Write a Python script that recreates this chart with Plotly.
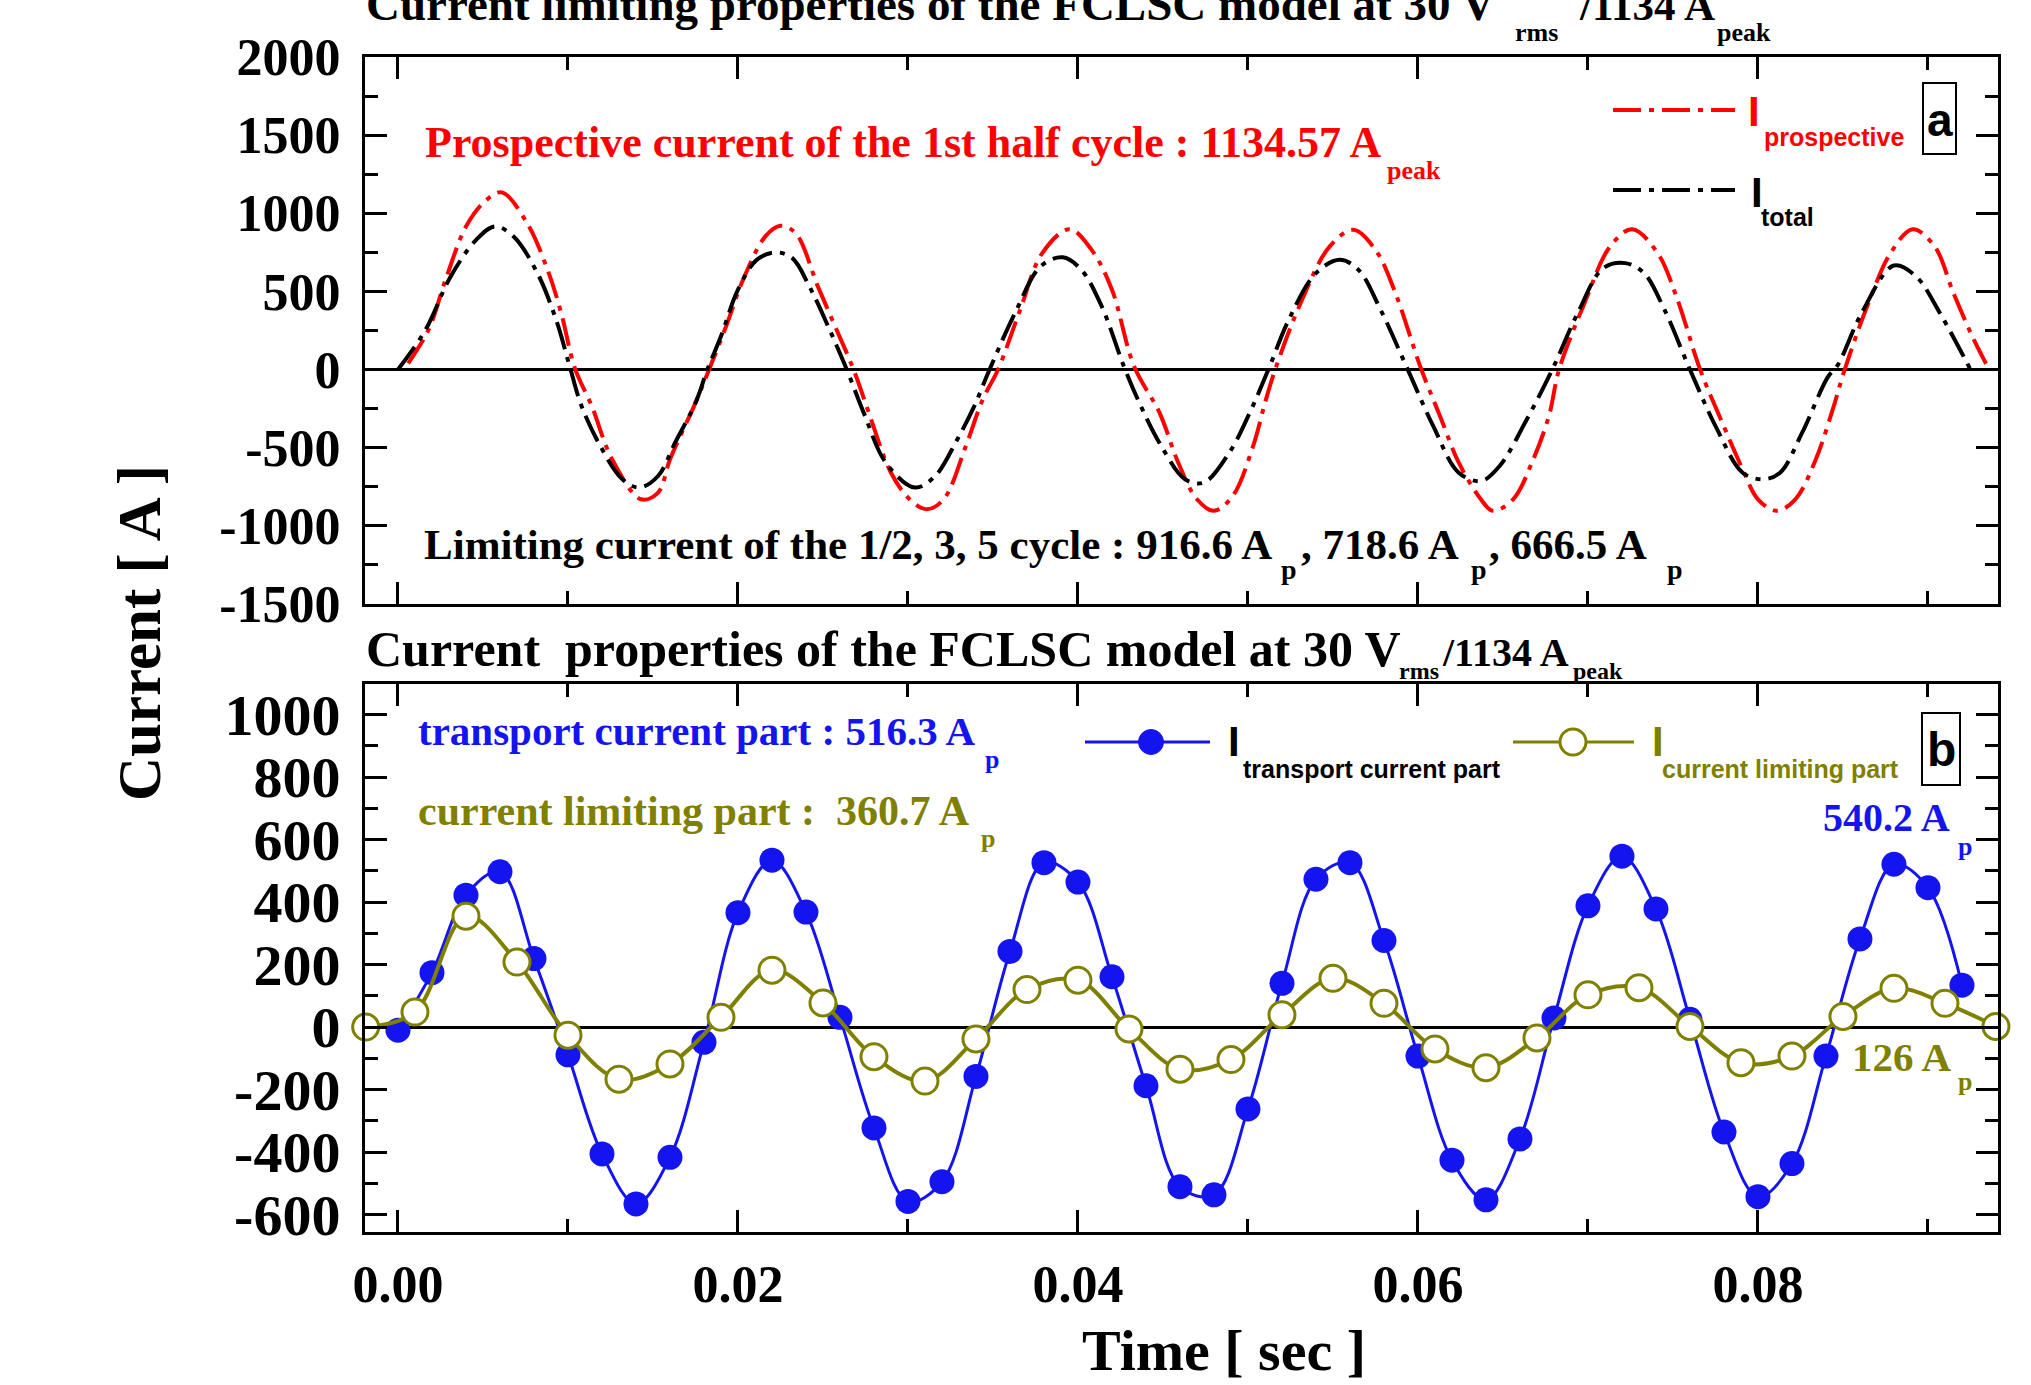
import plotly.graph_objects as go

W, H = 2031, 1385

# ---------------- data ----------------
t_prospective = [0.0006, 0.0018, 0.0028, 0.0040, 0.0051, 0.0061, 0.0076, 0.0088, 0.0096, 0.0104,
                 0.0114, 0.0126, 0.0143, 0.0153, 0.0160, 0.0175, 0.0183, 0.0193, 0.0203, 0.0216,
                 0.0225, 0.0234, 0.0247, 0.0258, 0.0268, 0.0277, 0.0290, 0.0301, 0.0311, 0.0321,
                 0.0334, 0.0344, 0.0353, 0.0366, 0.0379, 0.0395, 0.0408, 0.0420, 0.0433, 0.0448,
                 0.0459, 0.0470, 0.0480, 0.0491, 0.0503, 0.0510, 0.0516, 0.0531, 0.0548, 0.0562,
                 0.0575, 0.0586, 0.0602, 0.0613, 0.0624, 0.0637, 0.0644, 0.0656, 0.0667, 0.0677,
                 0.0683, 0.0698, 0.0713, 0.0726, 0.0741, 0.0752, 0.0766, 0.0779, 0.0791, 0.0800,
                 0.0811, 0.0822, 0.0834, 0.0844, 0.0851, 0.0865, 0.0878, 0.0891, 0.0904, 0.0915,
                 0.0927, 0.0936]
i_prospective = [40, 255, 575, 915, 1075, 1134, 936, 638, 362, 11,
                 -234, -575, -830, -787, -575, -213, 0, 277, 575, 851,
                 920, 872, 532, 255, 0, -277, -660, -830, -894, -830,
                 -490, -191, 0, 383, 745, 898, 766, 511, 21, -277,
                 -596, -830, -904, -809, -490, -213, 0, 426, 787, 894,
                 766, 511, 0, -298, -596, -830, -904, -830, -596, -298,
                 0, 426, 787, 898, 745, 468, 0, -340, -638, -830,
                 -904, -830, -575, -255, 0, 426, 745, 898, 787, 489,
                 191, 0]

t_total = [0.0000, 0.0016, 0.0031, 0.0046, 0.0057, 0.0068, 0.0082, 0.0093, 0.0101, 0.0108,
           0.0119, 0.0132, 0.0142, 0.0153, 0.0163, 0.0175, 0.0182, 0.0190, 0.0200, 0.0211,
           0.0222, 0.0232, 0.0242, 0.0253, 0.0264, 0.0274, 0.0287, 0.0304, 0.0316, 0.0329,
           0.0339, 0.0348, 0.0363, 0.0378, 0.0391, 0.0402, 0.0414, 0.0427, 0.0437, 0.0449,
           0.0463, 0.0474, 0.0489, 0.0501, 0.0512, 0.0524, 0.0540, 0.0554, 0.0565, 0.0578,
           0.0594, 0.0609, 0.0624, 0.0637, 0.0648, 0.0664, 0.0679, 0.0694, 0.0709, 0.0722,
           0.0733, 0.0745, 0.0760, 0.0776, 0.0791, 0.0803, 0.0813, 0.0826, 0.0841, 0.0847,
           0.0861, 0.0880, 0.0893, 0.0907, 0.0925]
i_total = [0, 250, 596, 830, 916, 851, 617, 319, 21, -234,
           -489, -702, -755, -681, -468, -213, 0, 213, 511, 702,
           750, 713, 532, 277, 0, -277, -596, -755, -681, -447,
           -234, 0, 362, 660, 718, 638, 404, 21, -234, -489,
           -702, -723, -532, -277, 0, 319, 617, 702, 638, 383,
           0, -362, -660, -713, -617, -319, 0, 362, 649, 681,
           617, 383, 0, -383, -660, -702, -660, -404, -50, 30,
           362, 666, 596, 362, 0]

t_transport = [0.000, 0.002, 0.004, 0.006, 0.008, 0.010, 0.012, 0.014, 0.016, 0.018,
               0.020, 0.022, 0.024, 0.026, 0.028, 0.030, 0.032, 0.034, 0.036, 0.038,
               0.040, 0.042, 0.044, 0.046, 0.048, 0.050, 0.052, 0.054, 0.056, 0.058,
               0.060, 0.062, 0.064, 0.066, 0.068, 0.070, 0.072, 0.074, 0.076, 0.078,
               0.080, 0.082, 0.084, 0.086, 0.088, 0.090, 0.092]
i_transport = [-10, 174, 422, 497, 219, -89, -406, -566, -417, -49,
               366, 534, 368, 31, -323, -558, -495, -158, 242, 526,
               464, 161, -188, -511, -537, -262, 140, 473, 526, 277,
               -93, -426, -553, -358, 29, 388, 547, 378, 25, -336,
               -543, -437, -93, 282, 521, 446, 134]

t_limiting = [-0.0019, 0.001, 0.004, 0.007, 0.010, 0.013, 0.016, 0.019, 0.022, 0.025,
              0.028, 0.031, 0.034, 0.037, 0.040, 0.043, 0.046, 0.049, 0.052, 0.055,
              0.058, 0.061, 0.064, 0.067, 0.070, 0.073, 0.076, 0.079, 0.082, 0.085,
              0.088, 0.091, 0.094]
i_limiting = [0, 48, 355, 208, -26, -167, -118, 31, 182, 77,
              -95, -173, -38, 120, 150, -6, -135, -104, 39, 156,
              76, -70, -130, -35, 103, 126, 2, -114, -93, 34,
              124, 76, 2]

x_tick_vals = [0.00, 0.02, 0.04, 0.06, 0.08]
x_tick_text = ["0.00", "0.02", "0.04", "0.06", "0.08"]
y_top_vals = [-1500, -1000, -500, 0, 500, 1000, 1500, 2000]
y_top_text = ["-1500", "-1000", "-500", "0", "500", "1000", "1500", "2000"]
y_bot_vals = [-600, -400, -200, 0, 200, 400, 600, 800, 1000]
y_bot_text = ["-600", "-400", "-200", "0", "200", "400", "600", "800", "1000"]

assert len(t_prospective) == len(i_prospective)
assert len(t_total) == len(i_total)
assert len(t_transport) == len(i_transport)
assert len(t_limiting) == len(i_limiting)

# ---------------- styling ----------------
SERIF = "Liberation Serif"
SANS = "Liberation Sans"
RED = "#ff0000"
BLUE = "#1414f0"
OLIVE = "#808000"
DASHDOT = "28px,8px,5px,8px"

fig = go.Figure()
fig.add_trace(go.Scatter(x=t_prospective, y=i_prospective, mode="lines", xaxis="x", yaxis="y",
                         line=dict(color=RED, width=4, dash=DASHDOT, shape="spline")))
fig.add_trace(go.Scatter(x=t_total, y=i_total, mode="lines", xaxis="x", yaxis="y",
                         line=dict(color="black", width=4, dash=DASHDOT, shape="spline")))
fig.add_trace(go.Scatter(x=t_transport, y=i_transport, mode="lines+markers", xaxis="x2", yaxis="y2",
                         line=dict(color=BLUE, width=3, shape="spline"),
                         marker=dict(symbol="circle", size=25, color=BLUE, line=dict(width=0)),
                         cliponaxis=False))
fig.add_trace(go.Scatter(x=t_limiting, y=i_limiting, mode="lines+markers", xaxis="x2", yaxis="y2",
                         line=dict(color=OLIVE, width=4, shape="spline"),
                         marker=dict(symbol="circle", size=26, color="white", line=dict(width=3, color=OLIVE)),
                         cliponaxis=False))

XR = [-0.00194, 0.09412]
XD = [365 / W, 1998 / W]


def xax(show_labels):
    return dict(range=XR, domain=XD, showline=True, linewidth=3, linecolor="black", mirror="ticks",
                ticks="inside", ticklen=22, tickwidth=3, tickcolor="black",
                tickmode="array", tickvals=x_tick_vals, ticktext=x_tick_text,
                showgrid=False, zeroline=False, showticklabels=show_labels, automargin=False,
                tickfont=dict(family=SERIF, size=52, color="black", weight="bold"),
                ticklabelstandoff=5,
                minor=dict(ticks="inside", ticklen=13, tickwidth=3, tickcolor="black",
                           tickmode="linear", tick0=0, dtick=0.01, showgrid=False))


def yax(rng, dom, vals, text, minor_dt, fsize, standoff):
    return dict(range=rng, domain=dom, showline=True, linewidth=3, linecolor="black", mirror="ticks",
                ticks="inside", ticklen=22, tickwidth=3, tickcolor="black",
                tickmode="array", tickvals=vals, ticktext=text, automargin=False,
                showgrid=False, zeroline=True, zerolinewidth=3, zerolinecolor="black",
                tickfont=dict(family=SERIF, size=fsize, color="black", weight="bold"),
                ticklabelstandoff=standoff,
                minor=dict(ticks="inside", ticklen=13, tickwidth=3, tickcolor="black",
                           tickmode="linear", tick0=0, dtick=minor_dt, showgrid=False))


fig.update_layout(
    width=W, height=H, margin=dict(l=0, r=0, t=0, b=0, pad=0, autoexpand=False),
    paper_bgcolor="white", plot_bgcolor="white", showlegend=False,
    xaxis=xax(False),
    yaxis=yax([-1500, 2000], [1 - 604 / H, 1 - 57 / H], y_top_vals, y_top_text, 250, 52, 11),
    xaxis2=xax(True),
    yaxis2=yax([-656, 1098], [1 - 1232 / H, 1 - 684 / H], y_bot_vals, y_bot_text, 100, 58, 10),
)
fig.layout.xaxis2.anchor = "y2"
fig.layout.yaxis2.anchor = "x2"
fig.layout.xaxis.anchor = "y"
fig.layout.yaxis.anchor = "x"

DESC = {SERIF: 0.216, SANS: 0.212}


def txt(x, base, s, size, color, fam=SERIF, anchor="left"):
    return dict(xref="paper", yref="paper", x=x / W, y=1 - (base + DESC[fam] * size) / H,
                xanchor=anchor, yanchor="bottom", text=s, showarrow=False, borderpad=0,
                font=dict(family=fam, size=size, color=color, weight="bold"))


ann = []
# titles
ann += [txt(365, 21, "Current limiting properties of the FCLSC model at 30 V", 47, "black"),
        txt(1514, 42, "rms", 26, "black"),
        txt(1578, 21, "/1134 A", 43, "black"),
        txt(1716, 42, "peak", 26, "black")]
ann += [txt(365, 667, "Current&nbsp; properties of the FCLSC model at 30 V", 50, "black"),
        txt(1398, 680, "rms", 24, "black"),
        txt(1441, 667, "/1134 A", 40, "black"),
        txt(1572, 680, "peak", 24, "black")]
# panel a texts
ann += [txt(424, 158, "Prospective current of the 1st half cycle : 1134.57 A", 44, RED),
        txt(1386, 180, "peak", 26, RED)]
ann += [txt(423, 560, "Limiting current of the 1/2, 3, 5 cycle : 916.6 A", 43, "black"),
        txt(1280, 580, "p", 28, "black"),
        txt(1300, 560, ", 718.6 A", 43, "black"),
        txt(1470, 580, "p", 28, "black"),
        txt(1488, 560, ", 666.5 A", 43, "black"),
        txt(1666, 580, "p", 28, "black")]
# panel b texts
ann += [txt(417, 746, "transport current part : 516.3 A", 41, BLUE),
        txt(984, 769, "p", 26, BLUE),
        txt(417, 826, "current limiting part :&nbsp; 360.7 A", 42, OLIVE),
        txt(980, 848, "p", 26, OLIVE),
        txt(1822, 832, "540.2 A", 40, BLUE),
        txt(1957, 856, "p", 26, BLUE),
        txt(1851, 1072, "126 A", 41, OLIVE),
        txt(1957, 1091, "p", 26, OLIVE)]
# legends
ann += [txt(1747, 127, "I", 42, RED, SANS), txt(1763, 147, "prospective", 25, RED, SANS),
        txt(1750, 208, "I", 42, "black", SANS), txt(1760, 227, "total", 25, "black", SANS),
        txt(1227, 757, "I", 42, "black", SANS), txt(1242, 779, "transport current part", 25, "black", SANS),
        txt(1651, 757, "I", 42, OLIVE, SANS), txt(1661, 779, "current limiting part", 25, OLIVE, SANS),
        txt(1939.5, 137, "a", 46, "black", SANS, "center"),
        txt(1941, 767, "b", 48, "black", SANS, "center")]
# axis titles
ann += [dict(xref="paper", yref="paper", x=139 / W, y=1 - 633 / H, xanchor="center", yanchor="middle",
             text="Current [ A ]", textangle=-90, showarrow=False,
             font=dict(family=SERIF, size=61, color="black", weight="bold")),
        txt(1224, 1371, "Time [ sec ]", 58, "black", SERIF, "center")]
fig.update_layout(annotations=ann)


def px(x, y):
    return x / W, 1 - y / H


shapes = []
for (y, col) in [(110, RED), (190, "black")]:
    x0, y0 = px(1613, y)
    x1, _ = px(1735, y)
    shapes.append(dict(type="line", xref="paper", yref="paper", x0=x0, x1=x1, y0=y0, y1=y0,
                       line=dict(color=col, width=4, dash=DASHDOT)))
for (xa, xb, col) in [(1085, 1210, BLUE), (1513, 1634, OLIVE)]:
    x0, y0 = px(xa, 742)
    x1, _ = px(xb, 742)
    shapes.append(dict(type="line", xref="paper", yref="paper", x0=x0, x1=x1, y0=y0, y1=y0,
                       line=dict(color=col, width=3)))
cx0, cy0 = px(1151 - 12.5, 742 - 12.5)
cx1, cy1 = px(1151 + 12.5, 742 + 12.5)
shapes.append(dict(type="circle", xref="paper", yref="paper", x0=cx0, x1=cx1, y0=cy0, y1=cy1,
                   fillcolor=BLUE, line=dict(color=BLUE, width=1)))
cx0, cy0 = px(1573 - 13, 742 - 13)
cx1, cy1 = px(1573 + 13, 742 + 13)
shapes.append(dict(type="circle", xref="paper", yref="paper", x0=cx0, x1=cx1, y0=cy0, y1=cy1,
                   fillcolor="white", line=dict(color=OLIVE, width=3)))
for (xa, ya, xb, yb) in [(1923, 83, 1956, 154), (1922, 713, 1960, 785)]:
    x0, y0 = px(xa, ya)
    x1, y1 = px(xb, yb)
    shapes.append(dict(type="rect", xref="paper", yref="paper", x0=x0, x1=x1, y0=y1, y1=y0,
                       line=dict(color="black", width=2), fillcolor="rgba(0,0,0,0)"))
fig.update_layout(shapes=shapes)

fig.write_html("out.html")
